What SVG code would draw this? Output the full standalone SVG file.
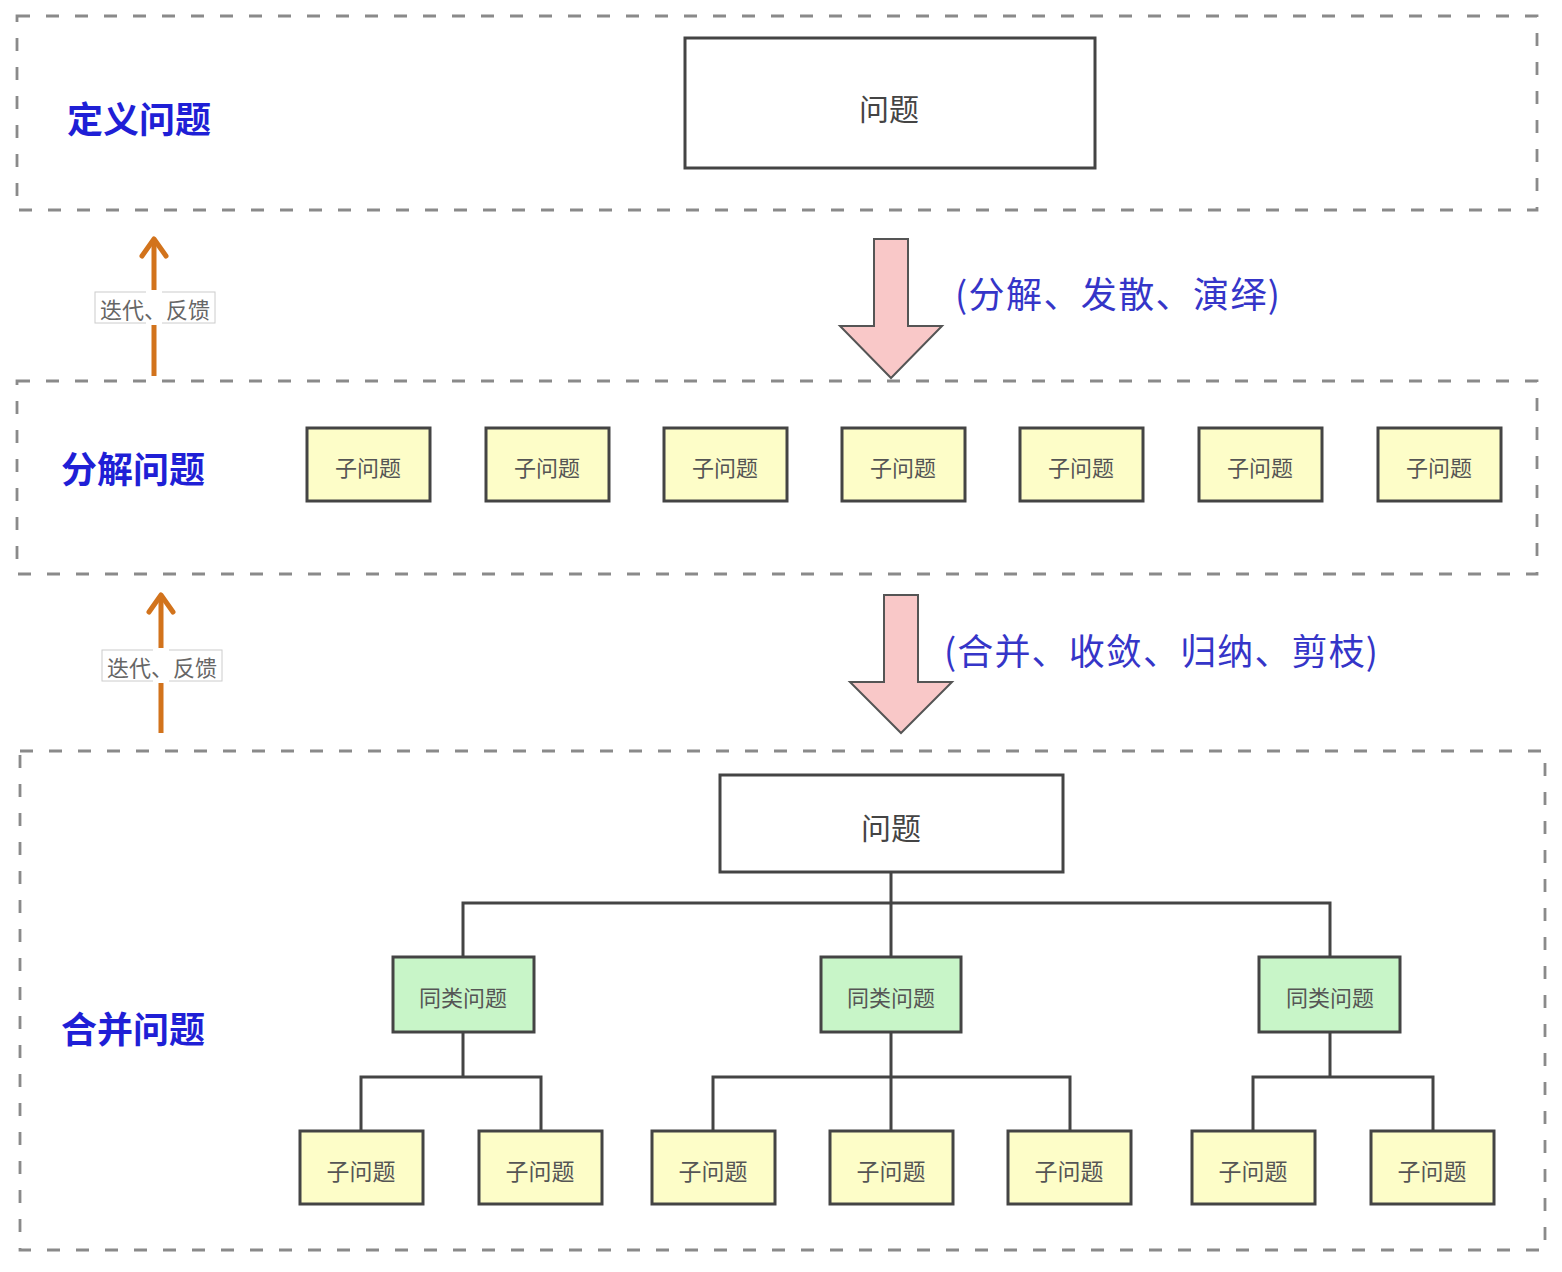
<svg xmlns="http://www.w3.org/2000/svg" width="1562" height="1272" viewBox="0 0 1562 1272">
  <defs>
    <style>
      .frame { fill: none; stroke: #8a8a8a; stroke-width: 2.8; stroke-dasharray: 13 16; }
      .stage { font-family: "Noto Sans CJK SC", "Noto Sans", sans-serif; font-weight: 700; font-size: 36px; fill: #1f1fd6; }
      .note { font-family: "Noto Sans CJK SC", "Noto Sans", sans-serif; font-size: 36px; fill: #3535c8; }
      .box-main { fill: #ffffff; stroke: #444444; stroke-width: 3; }
      .box-sub { fill: #fdfdc8; stroke: #444444; stroke-width: 3; }
      .box-group { fill: #c8f5c8; stroke: #444444; stroke-width: 3; }
      .t-main { font-family: "Noto Sans CJK SC", "Noto Sans", sans-serif; font-size: 30px; fill: #444444; text-anchor: middle; dominant-baseline: central; }
      .t-box { font-family: "Noto Sans CJK SC", "Noto Sans", sans-serif; font-size: 22px; fill: #555555; text-anchor: middle; dominant-baseline: central; }
      .t-leaf { font-size: 23px; }
      .t-feedback { font-family: "Noto Sans CJK SC", "Noto Sans", sans-serif; font-size: 22px; fill: #666666; text-anchor: middle; dominant-baseline: central; }
      .tree { fill: none; stroke: #444444; stroke-width: 3; }
      .block-arrow { fill: #f9c8c8; stroke: #555555; stroke-width: 2; }
      .feedback { stroke: #d2731c; stroke-width: 5; fill: none; }
      .feedback-head { stroke: #d2731c; stroke-width: 5; fill: none; stroke-linecap: round; stroke-linejoin: round; }
      .label-bg { fill: #ffffff; stroke: #cccccc; stroke-width: 1; }
    </style>
  </defs>

  <!-- stage frames -->
  <g id="frame-define">
    <rect class="frame" x="17" y="16" width="1520" height="194"/>
    <text class="stage" x="67" y="133">定义问题</text>
  </g>
  <g id="frame-decompose">
    <rect class="frame" x="17" y="381" width="1520" height="193"/>
    <text class="stage" x="61" y="483">分解问题</text>
  </g>
  <g id="frame-merge">
    <rect class="frame" x="20" y="751" width="1525" height="499"/>
    <text class="stage" x="61" y="1043">合并问题</text>
  </g>

  <!-- connectors -->
  <g id="connectors">
    <!-- block arrows between stages -->
    <path class="block-arrow" d="M874,239 H908 V326 H942 L891,378 L840,326 H874 Z"/>
    <path class="block-arrow" d="M884,595 H918 V682 H952 L901,733 L850,682 H884 Z"/>
    <text class="note" x="955" y="308" textLength="325" lengthAdjust="spacing">(分解、发散、演绎)</text>
    <text class="note" x="944" y="665" textLength="434" lengthAdjust="spacing">(合并、收敛、归纳、剪枝)</text>

    <!-- feedback arrows -->
    <line class="feedback" x1="154" y1="376" x2="154" y2="240"/>
    <polyline class="feedback-head" points="142,256 154,239 166,256"/>
    <rect class="label-bg" x="95" y="292" width="120" height="31"/>
    <rect x="146" y="290" width="16" height="35" fill="#ffffff"/>
    <text class="t-feedback" x="155" y="308">迭代、反馈</text>

    <line class="feedback" x1="161" y1="733" x2="161" y2="596"/>
    <polyline class="feedback-head" points="149,612 161,595 173,612"/>
    <rect class="label-bg" x="102" y="650" width="120" height="31"/>
    <rect x="153" y="648" width="16" height="35" fill="#ffffff"/>
    <text class="t-feedback" x="162" y="666">迭代、反馈</text>

    <!-- merge tree -->
    <path class="tree" d="M891,872 V903 M463,957 V903 H1330 V957 M891,903 V957"/>
    <path class="tree" d="M463,1032 V1077 M361,1131 V1077 H541 V1131"/>
    <path class="tree" d="M891,1032 V1131 M713,1131 V1077 H1070 V1131"/>
    <path class="tree" d="M1330,1032 V1077 M1253,1131 V1077 H1433 V1131"/>
  </g>

  <!-- define stage -->
  <g id="node-problem-top">
    <rect class="box-main" x="685" y="38" width="410" height="130"/>
    <text class="t-main" x="889" y="107">问题</text>
  </g>

  <!-- decompose stage -->
  <g id="node-sub-1"><rect class="box-sub" x="307" y="428" width="123" height="73"/><text class="t-box" x="368" y="466">子问题</text></g>
  <g id="node-sub-2"><rect class="box-sub" x="486" y="428" width="123" height="73"/><text class="t-box" x="547" y="466">子问题</text></g>
  <g id="node-sub-3"><rect class="box-sub" x="664" y="428" width="123" height="73"/><text class="t-box" x="725" y="466">子问题</text></g>
  <g id="node-sub-4"><rect class="box-sub" x="842" y="428" width="123" height="73"/><text class="t-box" x="903" y="466">子问题</text></g>
  <g id="node-sub-5"><rect class="box-sub" x="1020" y="428" width="123" height="73"/><text class="t-box" x="1081" y="466">子问题</text></g>
  <g id="node-sub-6"><rect class="box-sub" x="1199" y="428" width="123" height="73"/><text class="t-box" x="1260" y="466">子问题</text></g>
  <g id="node-sub-7"><rect class="box-sub" x="1378" y="428" width="123" height="73"/><text class="t-box" x="1439" y="466">子问题</text></g>

  <!-- merge stage -->
  <g id="node-problem-merged">
    <rect class="box-main" x="720" y="775" width="343" height="97"/>
    <text class="t-main" x="891" y="826">问题</text>
  </g>
  <g id="node-group-1"><rect class="box-group" x="393" y="957" width="141" height="75"/><text class="t-box" x="463" y="996">同类问题</text></g>
  <g id="node-group-2"><rect class="box-group" x="821" y="957" width="140" height="75"/><text class="t-box" x="891" y="996">同类问题</text></g>
  <g id="node-group-3"><rect class="box-group" x="1259" y="957" width="141" height="75"/><text class="t-box" x="1330" y="996">同类问题</text></g>

  <g id="node-leaf-1"><rect class="box-sub" x="300" y="1131" width="123" height="73"/><text class="t-box t-leaf" x="361" y="1170">子问题</text></g>
  <g id="node-leaf-2"><rect class="box-sub" x="479" y="1131" width="123" height="73"/><text class="t-box t-leaf" x="540" y="1170">子问题</text></g>
  <g id="node-leaf-3"><rect class="box-sub" x="652" y="1131" width="123" height="73"/><text class="t-box t-leaf" x="713" y="1170">子问题</text></g>
  <g id="node-leaf-4"><rect class="box-sub" x="830" y="1131" width="123" height="73"/><text class="t-box t-leaf" x="891" y="1170">子问题</text></g>
  <g id="node-leaf-5"><rect class="box-sub" x="1008" y="1131" width="123" height="73"/><text class="t-box t-leaf" x="1069" y="1170">子问题</text></g>
  <g id="node-leaf-6"><rect class="box-sub" x="1192" y="1131" width="123" height="73"/><text class="t-box t-leaf" x="1253" y="1170">子问题</text></g>
  <g id="node-leaf-7"><rect class="box-sub" x="1371" y="1131" width="123" height="73"/><text class="t-box t-leaf" x="1432" y="1170">子问题</text></g>
</svg>
